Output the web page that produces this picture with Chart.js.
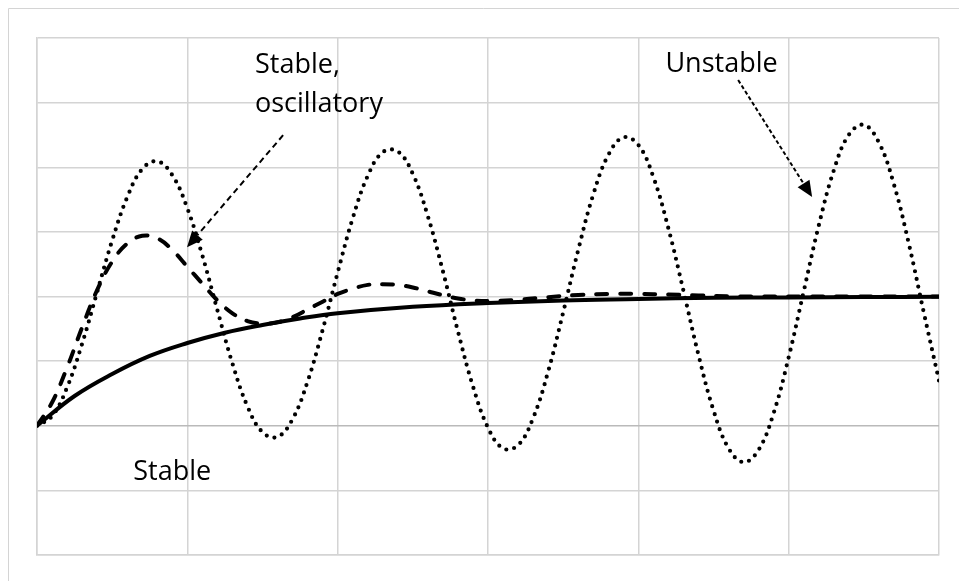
<!DOCTYPE html>
<html>
<head>
<meta charset="utf-8">
<script src="https://cdn.jsdelivr.net/npm/chart.js@4.4.1/dist/chart.umd.min.js"></script>
<style>
  html, body { margin: 0; padding: 0; background: #fff; overflow: hidden; }
  #wrap { position: relative; width: 959px; height: 581px; }
</style>
</head>
<body>
<div id="wrap"><canvas id="c" width="959" height="581"></canvas></div>
<script>
// Step responses: first-order (solid), damped second-order (dashed),
// growing oscillation (dotted). x in grid divisions, y in units of final value.

const stableT = [0, 0.25, 0.5, 0.75, 1, 1.25, 1.5, 1.75, 2, 2.5, 3, 3.5, 4, 4.5, 5, 5.5, 6];
const stableY = [0, 0.23, 0.40, 0.54, 0.64, 0.72, 0.78, 0.83, 0.87, 0.92, 0.95, 0.97, 0.98, 0.99, 0.993, 0.996, 0.998];

const oscT = [0, 0.1, 0.2, 0.3, 0.4, 0.5, 0.6, 0.7, 0.8, 0.9, 1.0, 1.1, 1.2, 1.3, 1.4, 1.5, 1.6, 1.7, 1.8, 1.9,
  2.0, 2.1, 2.2, 2.3, 2.4, 2.5, 2.6, 2.7, 2.8, 2.9, 3.0, 3.2, 3.4, 3.6, 3.8, 4.0, 4.2, 4.4, 4.6, 4.8, 5.0, 5.5, 6.0];
const oscY = [0, 0.18, 0.45, 0.76, 1.05, 1.27, 1.41, 1.47, 1.45, 1.36, 1.23, 1.10, 0.97, 0.87, 0.81, 0.79, 0.80, 0.84, 0.90, 0.96,
  1.02, 1.06, 1.09, 1.095, 1.09, 1.07, 1.04, 1.01, 0.985, 0.97, 0.965, 0.975, 0.995, 1.012, 1.02, 1.02, 1.015, 1.008, 1.002, 1.0, 1.0, 1.0, 1.0];

const unstableT = [0, 0.1, 0.2, 0.3, 0.4, 0.5, 0.6, 0.7, 0.8, 0.9, 1.0, 1.1, 1.2, 1.3, 1.4, 1.5, 1.6, 1.7, 1.8, 1.9,
  2.0, 2.1, 2.2, 2.3, 2.4, 2.5, 2.6, 2.7, 2.8, 2.9, 3.0, 3.1, 3.2, 3.3, 3.4, 3.5, 3.6, 3.7, 3.8, 3.9,
  4.0, 4.1, 4.2, 4.3, 4.4, 4.5, 4.6, 4.7, 4.8, 4.9, 5.0, 5.1, 5.2, 5.3, 5.4, 5.5, 5.6, 5.7, 5.8, 5.9, 6.0];
const unstableY = [0, 0.074, 0.296, 0.634, 1.034, 1.433, 1.768, 1.986, 2.046, 1.939, 1.683, 1.317, 0.894, 0.482, 0.150, -0.050, -0.086, 0.051, 0.342, 0.741,
  1.185, 1.605, 1.933, 2.116, 2.122, 1.948, 1.621, 1.196, 0.730, 0.305, -0.015, -0.175, -0.150, 0.059, 0.419, 0.877, 1.359, 1.788, 2.094, 2.231,
  2.173, 1.924, 1.527, 1.045, 0.548, 0.119, -0.174, -0.282, -0.187, 0.098, 0.529, 1.039, 1.548, 1.975, 2.251, 2.328, 2.192, 1.868, 1.405, 0.870, 0.349];

// Annotation labels (data coords of left/baseline) and arrows (from -> tip)
const labels = [
  { text: 'Stable,', x: 1.45, y: 2.73 },
  { text: 'oscillatory', x: 1.45, y: 2.43 },
  { text: 'Unstable', x: 4.18, y: 2.74 },
  { text: 'Stable', x: 0.64, y: -0.42 },
];
const arrows = [
  { x0: 1.637, y0: 2.248, x1: 0.998, y1: 1.381, dash: [6, 4] },
  { x0: 4.664, y0: 2.675, x1: 5.156, y1: 1.769, dash: [4, 2.5] },
];

function pts(xs, ys) { return xs.map((x, i) => ({ x, y: ys[i] })); }

const GRID = '#d4d4d4';

const framePlugin = {
  id: 'frame',
  beforeDraw(chart) {
    const ctx = chart.ctx;
    ctx.save();
    ctx.strokeStyle = GRID;
    ctx.lineWidth = 1;
    ctx.beginPath();
    ctx.moveTo(8.5, chart.height);
    ctx.lineTo(8.5, 8.5);
    ctx.lineTo(chart.width, 8.5);
    ctx.stroke();
    ctx.restore();
  }
};

const notesPlugin = {
  id: 'notes',
  afterDraw(chart) {
    const ctx = chart.ctx, xs = chart.scales.x, ys = chart.scales.y;
    ctx.save();
    ctx.fillStyle = '#000';
    ctx.font = '27px "Open Sans", sans-serif';
    ctx.textBaseline = 'alphabetic';
    ctx.textAlign = 'left';
    labels.forEach(l => ctx.fillText(l.text, xs.getPixelForValue(l.x), ys.getPixelForValue(l.y)));

    arrows.forEach(a => {
      const px0 = xs.getPixelForValue(a.x0), py0 = ys.getPixelForValue(a.y0);
      const px1 = xs.getPixelForValue(a.x1), py1 = ys.getPixelForValue(a.y1);
      const ang = Math.atan2(py1 - py0, px1 - px0);
      const len = 16, half = 7;
      const bx = px1 - len * Math.cos(ang), by = py1 - len * Math.sin(ang);
      ctx.strokeStyle = '#000';
      ctx.lineWidth = 2;
      ctx.setLineDash(a.dash);
      ctx.beginPath();
      ctx.moveTo(px0, py0);
      ctx.lineTo(bx, by);
      ctx.stroke();
      ctx.setLineDash([]);
      ctx.beginPath();
      ctx.moveTo(px1, py1);
      ctx.lineTo(bx + half * Math.sin(ang), by - half * Math.cos(ang));
      ctx.lineTo(bx - half * Math.sin(ang), by + half * Math.cos(ang));
      ctx.closePath();
      ctx.fill();
    });
    ctx.restore();
  }
};

new Chart(document.getElementById('c'), {
  type: 'line',
  data: {
    datasets: [
      {
        label: 'Unstable',
        data: pts(unstableT, unstableY),
        borderColor: '#000',
        borderWidth: 4.2,
        borderDash: [0, 8],
        borderCapStyle: 'round',
        pointRadius: 0,
        tension: 0.4,
        fill: false,
      },
      {
        label: 'Stable, oscillatory',
        data: pts(oscT, oscY),
        borderColor: '#000',
        borderWidth: 4,
        borderDash: [11, 13],
        borderCapStyle: 'round',
        pointRadius: 0,
        tension: 0.4,
        fill: false,
      },
      {
        label: 'Stable',
        data: pts(stableT, stableY),
        borderColor: '#000',
        borderWidth: 4,
        pointRadius: 0,
        tension: 0.4,
        fill: false,
      },
    ],
  },
  options: {
    responsive: false,
    animation: false,
    layout: { padding: { left: 37, top: 38, right: 20, bottom: 26 } },
    plugins: { legend: { display: false }, tooltip: { enabled: false } },
    scales: {
      x: {
        type: 'linear', min: 0, max: 6,
        ticks: { display: false, stepSize: 1 },
        grid: { color: GRID, drawTicks: false, lineWidth: 1.5 },
        border: { color: GRID, width: 1.5 },
      },
      y: {
        min: -1, max: 3,
        ticks: { display: false, stepSize: 0.5 },
        grid: { color: ctx => (ctx.tick && ctx.tick.value === 0 ? '#bababa' : GRID), drawTicks: false, lineWidth: 1.5 },
        border: { color: GRID, width: 1.5 },
      },
    },
  },
  plugins: [framePlugin, notesPlugin],
});
</script>
</body>
</html>
